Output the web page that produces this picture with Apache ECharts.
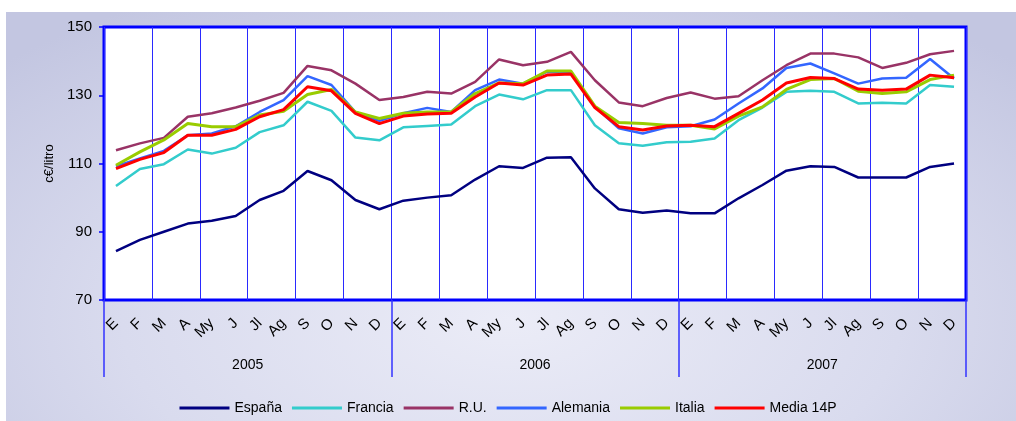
<!DOCTYPE html>
<html>
<head>
<meta charset="utf-8">
<script src="https://cdn.jsdelivr.net/npm/echarts/dist/echarts.min.js"></script>
<style>
  html, body { margin: 0; padding: 0; background: #fff; }
  .bg {
    position: absolute; left: 6px; top: 12px; width: 1010px; height: 409px;
    background: radial-gradient(ellipse 70% 90% at 50% 75%, #ebecf7 0%, #d9dbee 55%, #c3c6e1 100%);
  }
  #chart { position: absolute; left: 0; top: 0; width: 1016px; height: 421px; }
</style>
</head>
<body>
<div class="bg"></div>
<div id="chart"></div>
<script>
// meses (36) y años
const months = ['E','F','M','A','My','J','Jl','Ag','S','O','N','D',
                'E','F','M','A','My','J','Jl','Ag','S','O','N','D',
                'E','F','M','A','My','J','Jl','Ag','S','O','N','D'];
const years = ['2005', '2006', '2007'];

// c€/litro
const espana = [84.3, 87.6, 90.0, 92.4, 93.2, 94.6, 99.3, 102.0, 107.8, 105.1, 99.3, 96.6,
                99.1, 100.0, 100.7, 105.3, 109.2, 108.7, 111.7, 111.8, 102.7, 96.6, 95.6, 96.2,
                95.4, 95.4, 99.8, 103.7, 107.9, 109.2, 109.0, 105.9, 105.9, 105.9, 109.0, 110.0];
const francia = [103.4, 108.4, 109.8, 114.1, 112.9, 114.6, 119.2, 121.2, 128.1, 125.4, 117.6, 116.8,
                 120.6, 121.0, 121.4, 126.8, 130.2, 128.8, 131.5, 131.5, 121.2, 115.9, 115.2, 116.2,
                 116.4, 117.3, 122.7, 126.4, 131.0, 131.3, 131.0, 127.6, 127.8, 127.6, 133.0, 132.5];
const ru = [113.9, 115.9, 117.5, 123.7, 124.7, 126.4, 128.4, 130.7, 138.6, 137.3, 133.4, 128.6,
            129.5, 131.0, 130.5, 133.9, 140.5, 138.8, 139.8, 142.7, 134.4, 127.9, 126.8, 129.2,
            130.8, 129.0, 129.7, 134.4, 138.8, 142.2, 142.2, 141.1, 138.0, 139.5, 142.0, 143.0];
const alemania = [109.2, 111.5, 113.7, 118.3, 118.8, 120.9, 125.1, 128.6, 135.6, 133.0, 125.1, 122.5,
                  124.7, 126.3, 125.1, 131.5, 134.6, 133.4, 136.9, 136.6, 126.6, 120.3, 118.8, 120.6,
                  120.9, 122.9, 127.6, 132.0, 138.0, 139.3, 136.4, 133.4, 134.9, 135.1, 140.6, 134.9];
const italia = [109.5, 113.4, 116.9, 121.7, 120.8, 120.8, 124.2, 125.3, 130.2, 131.7, 125.1, 123.2,
                124.7, 125.1, 125.1, 130.5, 133.6, 133.4, 137.1, 137.1, 126.8, 122.0, 121.7, 121.2,
                121.2, 120.1, 123.9, 126.6, 131.7, 134.6, 134.9, 131.2, 130.5, 131.0, 134.6, 135.9];
const media = [108.5, 111.2, 113.2, 118.3, 118.3, 120.0, 123.7, 125.8, 132.5, 131.3, 124.7, 121.7,
               123.9, 124.5, 124.7, 129.5, 133.6, 133.0, 135.9, 136.2, 126.4, 120.8, 119.8, 121.0,
               121.2, 120.8, 124.7, 128.6, 133.6, 135.2, 134.9, 131.8, 131.5, 131.8, 135.9, 135.1];

const yTicks = [70, 90, 110, 130, 150];

const chart = echarts.init(document.getElementById('chart'));

function serie(name, data, color, width) {
    return {
        name: name,
        type: 'line',
        data: data,
        symbol: 'none',
        xAxisIndex: 0,
        lineStyle: { color: color, width: width },
        itemStyle: { color: color }
    };
}

const option = {
    animation: false,
    textStyle: { fontFamily: 'Liberation Sans, Arial, sans-serif' },
    grid: {
        left: 104, right: 50, top: 27, bottom: 121,
        show: true,
        backgroundColor: '#ffffff',
        borderColor: '#0000ff',
        borderWidth: 3
    },
    legend: {
        top: 396,
        left: 'center',
        icon: 'rect',
        itemWidth: 50,
        itemHeight: 3,
        itemGap: 10,
        textStyle: { color: '#000', fontSize: 14 },
        data: ['España', 'Francia', 'R.U.', 'Alemania', 'Italia', 'Media 14P']
    },
    xAxis: [{
        type: 'category',
        data: months,
        boundaryGap: true,
        axisLine: { show: false },
        axisTick: { show: false, interval: 0 },
        axisLabel: { rotate: 45, margin: 21, color: '#000', fontSize: 15, interval: 0 },
        // líneas verticales cada dos meses
        splitLine: {
            show: true,
            interval: function (index) { return index % 2 === 0; },
            lineStyle: { color: '#2a2aff', width: 1 }
        }
    }, {
        type: 'category',
        data: years,
        position: 'bottom',
        boundaryGap: true,
        axisLine: { show: false },
        axisTick: { show: true, length: 77, interval: 0, lineStyle: { color: '#3333ff', width: 1.5 } },
        axisLabel: { margin: 58, color: '#000', fontSize: 14 },
        splitLine: { show: false }
    }],
    yAxis: {
        type: 'value',
        min: yTicks[0],
        max: yTicks[yTicks.length - 1],
        interval: 20,
        name: 'c€/litro',
        nameLocation: 'middle',
        nameGap: 48,
        nameTextStyle: { color: '#000', fontSize: 13 },
        axisLine: { show: false },
        axisTick: { show: true, length: 5, lineStyle: { color: '#0000ff', width: 1.5 } },
        axisLabel: { color: '#000', fontSize: 15, margin: 12 },
        splitLine: { show: false }
    },
    series: [
        serie('España', espana, '#000080', 2.5),
        serie('Francia', francia, '#33cccc', 2.5),
        serie('R.U.', ru, '#993366', 2.5),
        serie('Alemania', alemania, '#3366ff', 2.5),
        serie('Italia', italia, '#99cc00', 3),
        serie('Media 14P', media, '#ff0000', 3)
    ]
};

chart.setOption(option);
</script>
</body>
</html>
